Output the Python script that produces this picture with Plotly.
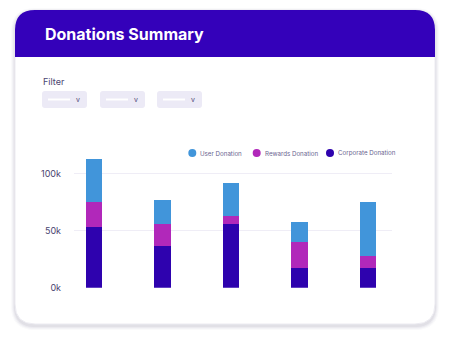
import plotly.graph_objects as go

# Donation amounts per group (in dollars), stacked bottom to top
groups = ["A", "B", "C", "D", "E"]
corporate = [53000, 37000, 56000, 17000, 17000]
rewards = [22000, 19000, 7000, 23500, 11000]
user = [38000, 21000, 29000, 17500, 47000]

series_names = ["User Donation", "Rewards Donation", "Corporate Donation"]
tick_vals = [0, 50000, 100000]
tick_text = ["0k", "50k", "100k"]

C_USER = "#4195DA"
C_REWARDS = "#B128BA"
C_CORP = "#2E02AE"
C_HEADER = "#3401BA"
C_TEXT = "#4A4470"

W, H = 450, 337


def px(x):
    return x / W


def py(y):
    return 1 - y / H


def rounded_path(x0, y0, x1, y1, r_top, r_bot):
    """SVG path (paper coords) for a rect given in pixels, top-left origin."""
    pts = []
    pts.append(f"M {px(x0 + r_top)},{py(y0)}")
    pts.append(f"L {px(x1 - r_top)},{py(y0)}")
    if r_top:
        pts.append(f"Q {px(x1)},{py(y0)} {px(x1)},{py(y0 + r_top)}")
    pts.append(f"L {px(x1)},{py(y1 - r_bot)}")
    if r_bot:
        pts.append(f"Q {px(x1)},{py(y1)} {px(x1 - r_bot)},{py(y1)}")
    pts.append(f"L {px(x0 + r_bot)},{py(y1)}")
    if r_bot:
        pts.append(f"Q {px(x0)},{py(y1)} {px(x0)},{py(y1 - r_bot)}")
    pts.append(f"L {px(x0)},{py(y0 + r_top)}")
    if r_top:
        pts.append(f"Q {px(x0)},{py(y0)} {px(x0 + r_top)},{py(y0)}")
    pts.append("Z")
    return " ".join(pts)


shapes = []

# soft shadow under the card
for i, a in enumerate([0.025, 0.03, 0.04, 0.05]):
    g = 4 - i
    shapes.append(dict(type="path", xref="paper", yref="paper", layer="below",
                       path=rounded_path(15 - g, 10 - g + 2, 435 + g, 324 + g + 2, 20 + g, 20 + g),
                       fillcolor=f"rgba(40,30,80,{a})", line=dict(width=0)))
# card
shapes.append(dict(type="path", xref="paper", yref="paper", layer="below",
                   path=rounded_path(15, 10, 435, 324, 20, 20),
                   fillcolor="white", line=dict(color="#ECEBF1", width=1)))
# header band
shapes.append(dict(type="path", xref="paper", yref="paper", layer="below",
                   path=rounded_path(15, 10, 435, 57, 20, 0),
                   fillcolor=C_HEADER, line=dict(width=0)))

annotations = [
    dict(text="<b>Donations Summary</b>", x=px(42.5), y=py(34), xref="paper", yref="paper",
         xanchor="left", yanchor="middle", showarrow=False,
         font=dict(family="Inter", size=16, color="white")),
    dict(text="Filter", x=px(41), y=py(82), xref="paper", yref="paper",
         xanchor="left", yanchor="middle", showarrow=False,
         font=dict(family="Inter", size=9, color=C_TEXT)),
]

# filter dropdown boxes
for x0 in [42, 100, 157]:
    shapes.append(dict(type="path", xref="paper", yref="paper", layer="below",
                       path=rounded_path(x0, 91, x0 + 45, 108, 3, 3),
                       fillcolor="#ECEAF6", line=dict(width=0)))
    shapes.append(dict(type="rect", xref="paper", yref="paper", layer="below",
                       x0=px(x0 + 6), x1=px(x0 + 28), y0=py(100.5), y1=py(98.5),
                       fillcolor="white", line=dict(width=0)))
    annotations.append(dict(text="v", x=px(x0 + 36), y=py(99.5), xref="paper", yref="paper",
                            xanchor="center", yanchor="middle", showarrow=False,
                            font=dict(family="Inter", size=7, color=C_TEXT)))

# legend items
for name, color, cx in zip(series_names, [C_USER, C_REWARDS, C_CORP], [192.3, 256.7, 330]):
    shapes.append(dict(type="circle", xref="paper", yref="paper",
                       x0=px(cx - 4), x1=px(cx + 4), y0=py(157), y1=py(149),
                       fillcolor=color, line=dict(width=0)))
    annotations.append(dict(text=name, x=px(cx + 6), y=py(153), xref="paper", yref="paper",
                            xanchor="left", yanchor="middle", showarrow=False,
                            font=dict(family="Inter", size=6.2, color="#6A6590")))

xs = list(range(len(groups)))
fig = go.Figure()
for vals, name, color in [(corporate, "Corporate Donation", C_CORP),
                          (rewards, "Rewards Donation", C_REWARDS),
                          (user, "User Donation", C_USER)]:
    fig.add_trace(go.Bar(x=xs, y=vals, name=name, marker=dict(color=color, line=dict(width=0)),
                         width=0.24, showlegend=False, hovertext=groups))

fig.update_layout(
    width=W, height=H, margin=dict(l=0, r=0, t=0, b=0, autoexpand=False),
    paper_bgcolor="white", plot_bgcolor="rgba(0,0,0,0)",
    barmode="stack", showlegend=False,
    shapes=shapes, annotations=annotations,
    xaxis=dict(domain=[px(74), px(392)], range=[-0.292, 4.35], showticklabels=False,
               showgrid=False, zeroline=False, fixedrange=True, automargin=False),
    yaxis=dict(domain=[py(287.7), py(150.9)], range=[0, 120000], tickvals=tick_vals,
               ticktext=tick_text, showgrid=True, gridcolor="#EFEDF6", gridwidth=1,
               zeroline=False, ticks="", ticklabelstandoff=12, automargin=False,
               tickfont=dict(family="Inter", size=9, color=C_TEXT)),
)

fig.write_html("out.html")
